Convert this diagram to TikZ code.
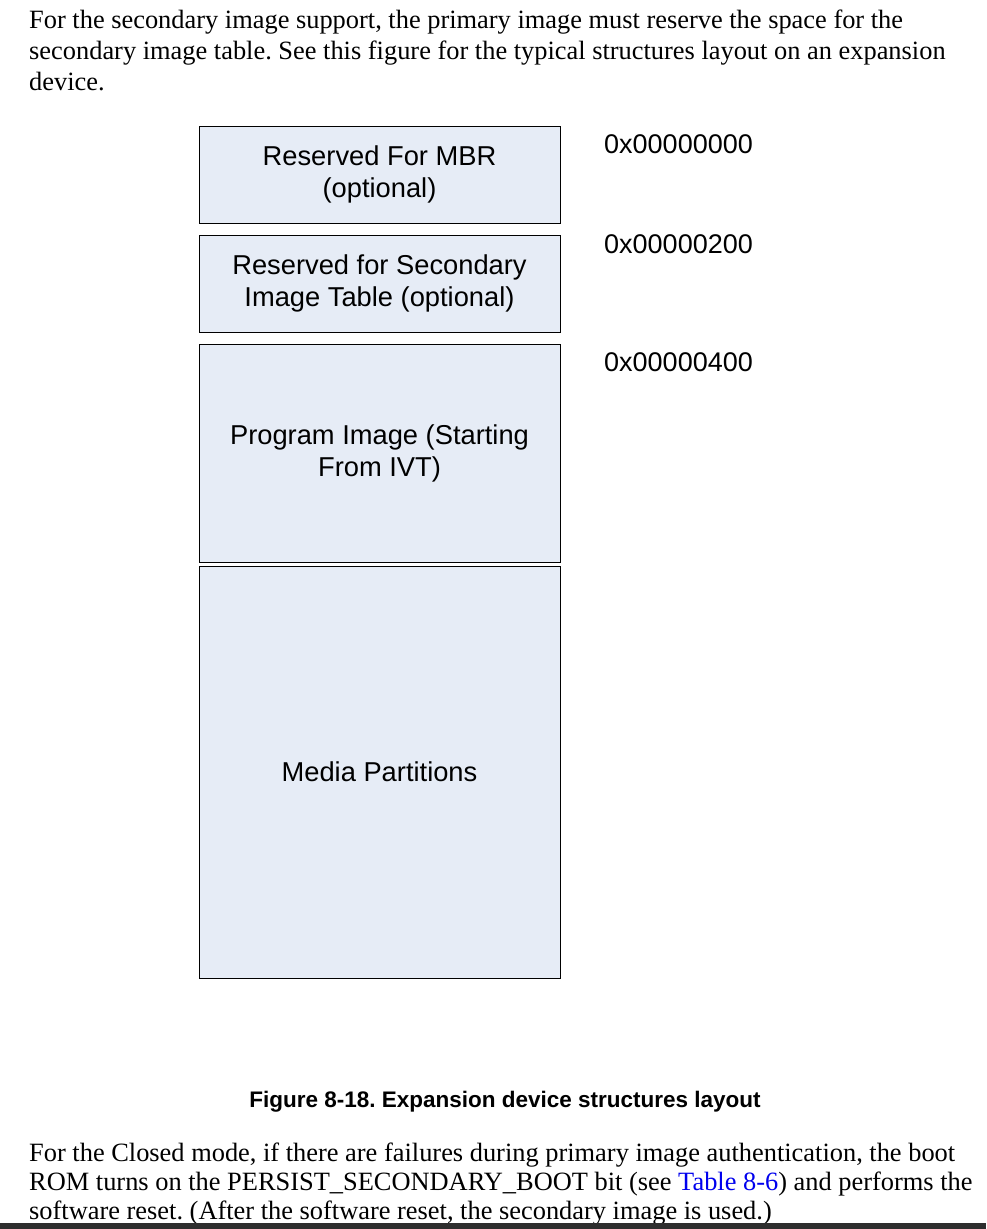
\documentclass[tikz,border=0pt]{standalone}
\usepackage{fontspec}
\setmainfont{Liberation Serif}
\newfontfamily\labelfont{Liberation Sans}
\definecolor{blockfill}{HTML}{E6ECF6}
\definecolor{linkblue}{HTML}{0000EE}
\definecolor{footbar}{HTML}{2E2E2E}
\frenchspacing
\begin{document}
\begin{tikzpicture}[x=1pt,y=-1pt,
  bodyline/.style={anchor=base west, inner sep=0pt, font=\fontsize{26.4}{31}\selectfont},
  memblock/.style={draw=black, line width=1pt, fill=blockfill, minimum width=361pt,
    align=center, inner sep=0pt, font=\labelfont\fontsize{27.3}{32}\selectfont},
  addr/.style={anchor=west, inner sep=0pt, font=\labelfont\fontsize{27}{32}\selectfont},
  caption/.style={inner sep=0pt, font=\labelfont\bfseries\fontsize{22.5}{26}\selectfont}]
\useasboundingbox (0,0) rectangle (986,1229);
\fill[white] (0,0) rectangle (986,1229);

% introductory paragraph
\node[bodyline] (p1) at (29,28) {For the secondary image support, the primary image must reserve the space for the};
\node[bodyline] (p2) at (29,59) {secondary image table. See this figure for the typical structures layout on an expansion};
\node[bodyline] (p3) at (29,90) {device.};

% memory layout blocks
\node[memblock, minimum height=97pt] (mbr) at (379.5,174.5) {Reserved For MBR\\(optional)};
\node[memblock, minimum height=97pt] (sit) at (379.5,283.5) {Reserved for Secondary\\Image Table (optional)};
\node[memblock, minimum height=218pt] (prog) at (379.5,453) {Program Image (Starting\\From IVT)};
\node[memblock, minimum height=412pt] (media) at (379.5,772) {Media Partitions};

% start addresses
\node[addr] (a0) at (604,144) {0x00000000};
\node[addr] (a1) at (604,244) {0x00000200};
\node[addr] (a2) at (604,362) {0x00000400};

% figure caption
\node[caption] (cap) at (505,1102) {Figure 8-18. Expansion device structures layout};

% following paragraph
\node[bodyline] (q1) at (29,1161) {For the Closed mode, if there are failures during primary image authentication, the boot};
\node[bodyline] (q2) at (29,1190) {ROM turns on the PERSIST\_SECONDARY\_BOOT bit (see \textcolor{linkblue}{Table 8-6}) and performs the};
\node[bodyline] (q3) at (29,1219) {software reset. (After the software reset, the secondary image is used.)};

% page edge
\fill[footbar] (0,1223) rectangle (986,1229);
\end{tikzpicture}
\end{document}
